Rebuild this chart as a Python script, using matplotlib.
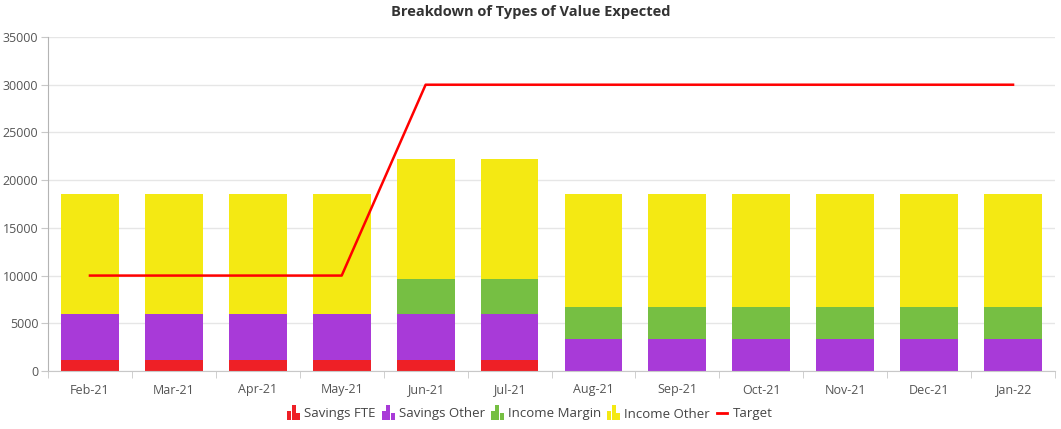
import matplotlib.pyplot as plt
import numpy as np
from matplotlib.legend_handler import HandlerBase
from matplotlib.patches import Rectangle
from matplotlib.lines import Line2D

plt.rcParams['font.family'] = ['Open Sans', 'DejaVu Sans']

months = ['Feb-21', 'Mar-21', 'Apr-21', 'May-21', 'Jun-21', 'Jul-21',
          'Aug-21', 'Sep-21', 'Oct-21', 'Nov-21', 'Dec-21', 'Jan-22']
savings_fte = [1200, 1200, 1200, 1200, 1200, 1200, 0, 0, 0, 0, 0, 0]
savings_other = [4800, 4800, 4800, 4800, 4800, 4800, 3400, 3400, 3400, 3400, 3400, 3400]
income_margin = [0, 0, 0, 0, 3650, 3650, 3300, 3300, 3300, 3300, 3300, 3300]
income_other = [12500, 12500, 12500, 12500, 12550, 12550, 11800, 11800, 11800, 11800, 11800, 11800]
target = [10000, 10000, 10000, 10000, 30000, 30000, 30000, 30000, 30000, 30000, 30000, 30000]

colors = ['#ee2026', '#a83ad8', '#76bf43', '#f4e913']
names = ['Savings FTE', 'Savings Other', 'Income Margin', 'Income Other']


class BarIcon(HandlerBase):
    # little three-bar glyph, like the original legend
    def create_artists(self, legend, orig_handle, xdescent, ydescent,
                       width, height, fontsize, trans):
        c = orig_handle.get_facecolor()
        w = width / 3.3
        hs = [0.65, 1.0, 0.45]
        out = []
        for i, h in enumerate(hs):
            r = Rectangle((i * w * 1.15 - xdescent, -ydescent - height * 0.25), w, height * h * 1.55,
                          facecolor=c, edgecolor='none', transform=trans)
            out.append(r)
        return out


class ShortLine(HandlerBase):
    def create_artists(self, legend, orig_handle, xdescent, ydescent,
                       width, height, fontsize, trans):
        y = height / 2 - ydescent
        ln = Line2D([-xdescent + width * 0.1, -xdescent + width * 0.85], [y, y],
                    color=orig_handle.get_color(), linewidth=orig_handle.get_linewidth(),
                    transform=trans)
        return [ln]


fig = plt.figure(figsize=(10.61, 4.29), dpi=100)
ax = fig.add_axes([48 / 1061, 58 / 429, 1007 / 1061, 334 / 429])

x = np.arange(len(months))
bottom = np.zeros(len(months))
handles = []
for vals, c, n in zip([savings_fte, savings_other, income_margin, income_other], colors, names):
    ax.bar(x, vals, width=0.69, bottom=bottom, color=c, linewidth=0, zorder=2)
    bottom += np.array(vals)
    handles.append(Rectangle((0, 0), 1, 1, facecolor=c))

ax.plot(x, target, color='#ff0000', linewidth=1.8, zorder=3)
handles.append(Line2D([], [], color='#ff0000', linewidth=2))

ax.set_xlim(-0.5, len(months) - 0.5)
ax.set_ylim(0, 35000)
ax.set_yticks(range(0, 35001, 5000))
ax.set_xticks(x)
ax.set_xticklabels(months)
ax.set_xticks(np.arange(-0.5, len(months)), minor=True)
ax.tick_params(axis='x', which='major', length=0, pad=9, labelsize=9, labelcolor='#555555')
ax.tick_params(axis='x', which='minor', length=5, color='#c8c8c8')
ax.tick_params(axis='y', length=5, color='#c8c8c8', labelsize=9, labelcolor='#555555', pad=2)
ax.grid(axis='y', color='#e6e6e6', linewidth=1, zorder=0)
for s in ['top', 'right']:
    ax.spines[s].set_visible(False)
ax.spines['left'].set_color('#b4b4b4')
ax.spines['bottom'].set_color('#c8c8c8')

fig.text(0.5, 1 - 12 / 429, 'Breakdown of Types of Value Expected', ha='center', va='center',
         fontsize=10.5, fontweight='bold', color='#333333')

fig.legend(handles, names + ['Target'], loc='center', bbox_to_anchor=(530 / 1061, 1 - 414 / 429),
           ncol=5, frameon=False, fontsize=9.5, handlelength=1.0, handletextpad=0.3,
           columnspacing=0.45, handler_map={Rectangle: BarIcon(), Line2D: ShortLine()},
           labelcolor='#444444')

fig.savefig('out.png', dpi=100)
